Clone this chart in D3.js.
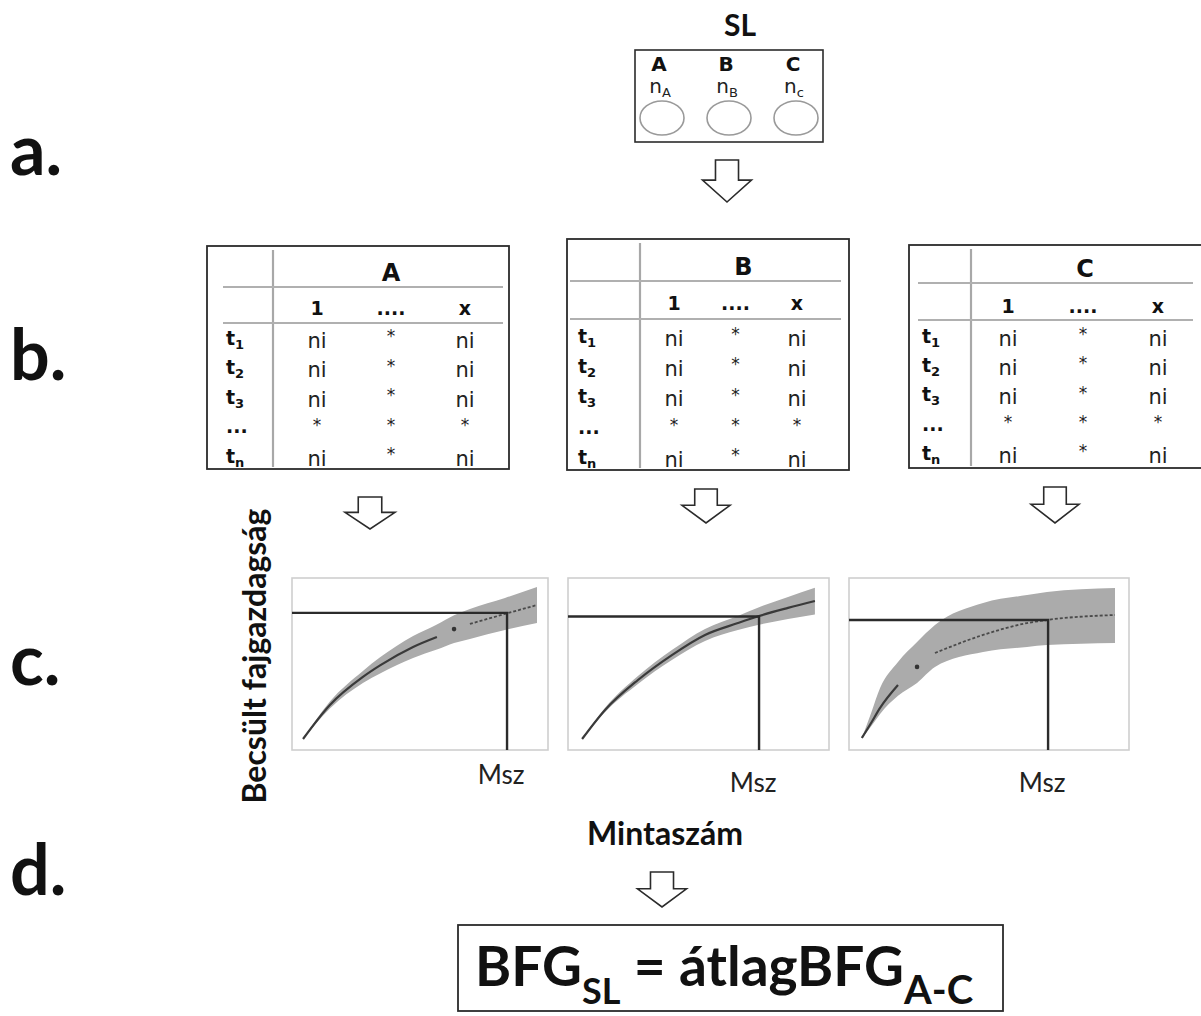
<!DOCTYPE html>
<html>
<head>
<meta charset="utf-8">
<script src="https://cdn.jsdelivr.net/npm/d3@7"></script>
<style>
  body { margin: 0; background: #fff; }
  svg { display: block; }
</style>
</head>
<body>
<svg id="chart" width="1201" height="1016"></svg>
<script>
// ---- data ----
const panelLetters = ['a.', 'b.', 'c.', 'd.'];
const sites = ['A', 'B', 'C'];
const siteSubs = ['A', 'B', 'c'];
const colHeaders = ['1', '....', 'x'];
const rowLabels = ['t1', 't2', 't3', '...', 'tn'];
const cellValues = [
    ['ni', '*', 'ni'],
    ['ni', '*', 'ni'],
    ['ni', '*', 'ni'],
    ['*', '*', '*'],
    ['ni', '*', 'ni']
];

// rarefaction / extrapolation curves (sample number vs estimated richness, 0-100 units)
const sampleA = [4.3, 14.8, 27.7, 34.4, 47.3, 56.6, 63.3, 69.5, 83.2, 95.7];
const richA   = [6.4, 26.2, 42.5, 49.2, 59.9, 65.7, 70.3, 73.3, 79.1, 84.3];
const lowA    = [6.4, 24.2, 39.0, 44.5, 53.5, 58.4, 62.2, 64.6, 69.8, 73.8];
const highA   = [6.4, 28.2, 46.0, 53.9, 66.3, 73.0, 78.4, 82.0, 88.4, 94.8];

const sampleB = [5.4, 14.2, 26.8, 39.8, 52.5, 65.1, 73.2, 84.3, 94.6];
const richB   = [6.4, 23.3, 40.7, 55.2, 66.9, 73.8, 77.9, 82.6, 86.6];
const lowB    = [6.4, 22.1, 38.4, 52.3, 63.4, 69.7, 72.8, 76.2, 78.8];
const highB   = [6.4, 24.5, 43.0, 58.1, 70.4, 77.9, 83.0, 89.0, 94.4];

const sampleC = [4.6, 8.0, 11.1, 17.5, 24.3, 30.7, 47.9, 63.6, 70.7, 95.0];
const richC   = [7.0, 16.0, 24.5, 37.8, 48.3, 56.4, 66.9, 73.8, 75.6, 78.5];
const lowC    = [7.0, 14.0, 21.0, 31.5, 39.0, 48.3, 57.0, 59.9, 61.0, 62.2];
const highC   = [7.0, 22.0, 36.0, 51.2, 62.8, 72.7, 85.5, 90.1, 91.9, 94.2];

// index of the reference sample (observed point), null = none
const refIndex = [6, null, 4];
// Msz: chosen sample number and the richness read at it
const mszSample = [84.0, 73.2, 71.1];
const mszRich   = [79.7, 77.6, 75.6];

const yLabel = 'Becsült fajgazdagság';
const xLabel = 'Mintaszám';
const mszLabel = 'Msz';

// ---- layout ----
const svg = d3.select('#chart');
const ink = '#2b2b2b';
const font = 'Lato, "Open Sans", sans-serif';
const tableFont = '"DejaVu Sans", Verdana, sans-serif';

// block arrow pointing down
function arrowPath(cx, top, w, h) {
    const sw = w * 0.235, mid = top + h * 0.48;
    return d3.line()([
        [cx - sw, top], [cx + sw, top], [cx + sw, mid], [cx + w / 2, mid],
        [cx, top + h], [cx - w / 2, mid], [cx - sw, mid]
    ]) + 'Z';
}
function drawArrow(cx, top, w, h) {
    svg.append('path')
        .attr('d', arrowPath(cx, top, w, h))
        .attr('fill', '#fff')
        .attr('stroke', ink)
        .attr('stroke-width', 1.6)
        .attr('stroke-linejoin', 'miter');
}

// panel letters
const letterY = [175, 380, 685, 895];
svg.selectAll('.panel-letter')
    .data(panelLetters)
    .join('text')
    .attr('class', 'panel-letter')
    .attr('x', 10)
    .attr('y', (d, i) => letterY[i])
    .attr('font-family', font)
    .attr('font-weight', 700)
    .attr('font-size', 70)
    .attr('fill', '#111')
    .text(d => d);

// ---- a. sampling location ----
svg.append('text')
    .attr('x', 740).attr('y', 36)
    .attr('text-anchor', 'middle')
    .attr('font-family', font).attr('font-weight', 700).attr('font-size', 30)
    .attr('fill', '#111')
    .text('SL');

svg.append('rect')
    .attr('x', 635).attr('y', 50).attr('width', 188).attr('height', 92)
    .attr('fill', 'none').attr('stroke', ink).attr('stroke-width', 1.6);

const siteX = d3.scalePoint().domain(sites).range([662, 796]);
const siteG = svg.selectAll('.site')
    .data(sites)
    .join('g')
    .attr('class', 'site')
    .attr('transform', d => `translate(${siteX(d)},0)`);

siteG.append('text')
    .attr('x', -3).attr('y', 71)
    .attr('text-anchor', 'middle')
    .attr('font-family', tableFont).attr('font-weight', 700).attr('font-size', 20)
    .attr('fill', '#111')
    .text(d => d);

const nLabel = siteG.append('text')
    .attr('x', -2).attr('y', 93)
    .attr('text-anchor', 'middle')
    .attr('font-family', tableFont).attr('font-size', 20)
    .attr('fill', '#222');
nLabel.append('tspan').text('n');
nLabel.append('tspan')
    .attr('dy', 4).attr('font-size', 13)
    .text((d, i) => siteSubs[i]);

siteG.append('ellipse')
    .attr('cx', 0).attr('cy', 118).attr('rx', 22).attr('ry', 17)
    .attr('fill', 'none').attr('stroke', '#9a9a9a').attr('stroke-width', 1.6);

drawArrow(727, 160, 49, 42);

// ---- b. tables ----
const tables = [
    { x0: 207, y0: 246, x1: 509, y1: 469, div: 273, h1: 287, h2: 323, hx0: 223, hx1: 503,
      headY: 272, colY: 308, rowY: [340, 458], colX: [317, 465], labelX: 226 },
    { x0: 567, y0: 239, x1: 849, y1: 470, div: 640, h1: 281, h2: 319, hx0: 570, hx1: 841,
      headY: 266, colY: 303, rowY: [338, 459], colX: [674, 797], labelX: 578 },
    { x0: 909, y0: 245, x1: 1210, y1: 468, div: 971, h1: 283, h2: 320, hx0: 918, hx1: 1193,
      headY: 268, colY: 306, rowY: [338, 455], colX: [1008, 1158], labelX: 922 }
];

tables.forEach((t, ti) => {
    const g = svg.append('g').attr('class', 'table');
    const cx = d3.scalePoint().domain(colHeaders).range(t.colX);
    const ry = d3.scalePoint().domain(rowLabels).range(t.rowY);

    g.append('rect')
        .attr('x', t.x0).attr('y', t.y0)
        .attr('width', t.x1 - t.x0).attr('height', t.y1 - t.y0)
        .attr('fill', '#fff').attr('stroke', ink).attr('stroke-width', 1.8);

    g.append('line')
        .attr('x1', t.div).attr('x2', t.div)
        .attr('y1', t.y0 + 4).attr('y2', t.y1 - 2)
        .attr('stroke', '#a8a8a8').attr('stroke-width', 2.2);

    g.selectAll('.hline')
        .data([t.h1, t.h2])
        .join('line')
        .attr('class', 'hline')
        .attr('x1', t.hx0).attr('x2', t.hx1)
        .attr('y1', d => d).attr('y2', d => d)
        .attr('stroke', '#b0b0b0').attr('stroke-width', 2);

    // site header
    g.append('text')
        .attr('x', (t.div + t.hx1) / 2 + 3).attr('y', t.headY)
        .attr('dy', '0.36em')
        .attr('text-anchor', 'middle')
        .attr('font-family', tableFont).attr('font-weight', 700).attr('font-size', 24)
        .attr('fill', '#111')
        .text(sites[ti]);

    // sample columns
    g.selectAll('.col-head')
        .data(colHeaders)
        .join('text')
        .attr('class', 'col-head')
        .attr('x', d => cx(d)).attr('y', t.colY)
        .attr('dy', '0.36em')
        .attr('text-anchor', 'middle')
        .attr('font-family', tableFont).attr('font-weight', 700).attr('font-size', 19)
        .attr('fill', '#111')
        .text(d => d);

    // time labels
    const rl = g.selectAll('.row-label')
        .data(rowLabels)
        .join('text')
        .attr('class', 'row-label')
        .attr('x', t.labelX).attr('y', d => ry(d) - 2)
        .attr('dy', '0.36em')
        .attr('font-family', tableFont).attr('font-weight', 700).attr('font-size', 19)
        .attr('fill', '#111');
    rl.append('tspan').text(d => d.startsWith('t') ? 't' : d);
    rl.append('tspan')
        .attr('dy', 4).attr('font-size', 13)
        .text(d => d.startsWith('t') ? d.slice(1) : '');

    // cells
    rowLabels.forEach((r, ri) => {
        g.selectAll('.cell-' + ri)
            .data(cellValues[ri])
            .join('text')
            .attr('x', (d, ci) => cx(colHeaders[ci]))
            .attr('y', d => ry(r) + (d === '*' ? -4 : 0))
            .attr('dy', '0.36em')
            .attr('text-anchor', 'middle')
            .attr('font-family', tableFont).attr('font-size', d => d === '*' ? 17 : 21)
            .attr('fill', '#222')
            .text(d => d);
    });
});

drawArrow(370, 497, 50, 32);
drawArrow(706, 489, 48, 34);
drawArrow(1055, 487, 48, 36);

// ---- c. rarefaction plots ----
const frames = [
    { x0: 292, x1: 548, y0: 578, y1: 750, mszY: 784 },
    { x0: 568, x1: 829, y0: 578, y1: 750, mszY: 792 },
    { x0: 849, x1: 1129, y0: 578, y1: 750, mszY: 792 }
];
const curves = [
    { s: sampleA, r: richA, lo: lowA, hi: highA },
    { s: sampleB, r: richB, lo: lowB, hi: highB },
    { s: sampleC, r: richC, lo: lowC, hi: highC }
];
const dashedExtrapolation = [true, false, true];

frames.forEach((f, pi) => {
    const c = curves[pi];
    const x = d3.scaleLinear().domain([0, 100]).range([f.x0, f.x1]);
    const y = d3.scaleLinear().domain([0, 100]).range([f.y1, f.y0]);
    const pts = c.s.map((s, i) => ({ s, r: c.r[i], lo: c.lo[i], hi: c.hi[i] }));
    const g = svg.append('g').attr('class', 'plot');

    g.append('rect')
        .attr('x', f.x0).attr('y', f.y0)
        .attr('width', f.x1 - f.x0).attr('height', f.y1 - f.y0)
        .attr('fill', '#fff').attr('stroke', '#cfcfcf').attr('stroke-width', 1.6);

    const area = d3.area()
        .x(d => x(d.s)).y0(d => y(d.lo)).y1(d => y(d.hi))
        .curve(d3.curveMonotoneX);
    g.append('path')
        .attr('d', area(pts))
        .attr('fill', '#ababab');

    const line = d3.line().x(d => x(d.s)).y(d => y(d.r)).curve(d3.curveMonotoneX);
    const ref = refIndex[pi];
    const observed = ref == null ? pts : pts.slice(0, ref);
    const extrap = ref == null ? [] : pts.slice(ref + 1);

    g.append('path')
        .attr('d', line(observed))
        .attr('fill', 'none').attr('stroke', '#3a3a3a').attr('stroke-width', 2.2);

    if (extrap.length) {
        g.append('path')
            .attr('d', line(extrap))
            .attr('fill', 'none').attr('stroke', '#4a4a4a').attr('stroke-width', 1.8)
            .attr('stroke-dasharray', dashedExtrapolation[pi] ? '3,2' : null);
        g.append('circle')
            .attr('cx', x(pts[ref].s)).attr('cy', y(pts[ref].r)).attr('r', 2.3)
            .attr('fill', '#333');
    }

    // Msz guide lines
    g.append('path')
        .attr('d', d3.line()([
            [f.x0, y(mszRich[pi])],
            [x(mszSample[pi]), y(mszRich[pi])],
            [x(mszSample[pi]), f.y1]
        ]))
        .attr('fill', 'none').attr('stroke', ink).attr('stroke-width', 2.4);

    g.append('text')
        .attr('x', x(mszSample[pi]) - 6).attr('y', f.mszY)
        .attr('text-anchor', 'middle')
        .attr('font-family', font).attr('font-size', 26)
        .attr('fill', '#222')
        .text(mszLabel);
});

svg.append('text')
    .attr('transform', 'translate(266,656) rotate(-90)')
    .attr('text-anchor', 'middle')
    .attr('font-family', font).attr('font-weight', 700).attr('font-size', 32)
    .attr('fill', '#111')
    .text(yLabel);

svg.append('text')
    .attr('x', 665).attr('y', 845)
    .attr('text-anchor', 'middle')
    .attr('font-family', font).attr('font-weight', 700).attr('font-size', 32)
    .attr('fill', '#111')
    .text(xLabel);

// ---- d. averaged estimate ----
drawArrow(662, 872, 49, 35);

svg.append('rect')
    .attr('x', 458).attr('y', 925).attr('width', 545).attr('height', 86)
    .attr('fill', 'none').attr('stroke', ink).attr('stroke-width', 1.8);

const formula = svg.append('text')
    .attr('x', 475).attr('y', 986)
    .attr('font-family', font).attr('font-weight', 700).attr('font-size', 55)
    .attr('fill', '#111');
formula.append('tspan').text('BFG');
formula.append('tspan').attr('dy', 18).attr('font-size', 36).text('SL');
formula.append('tspan').attr('dy', -18).text(' = átlagBFG');
formula.append('tspan').attr('dy', 18).attr('font-size', 40).text('A-C');
</script>
</body>
</html>
